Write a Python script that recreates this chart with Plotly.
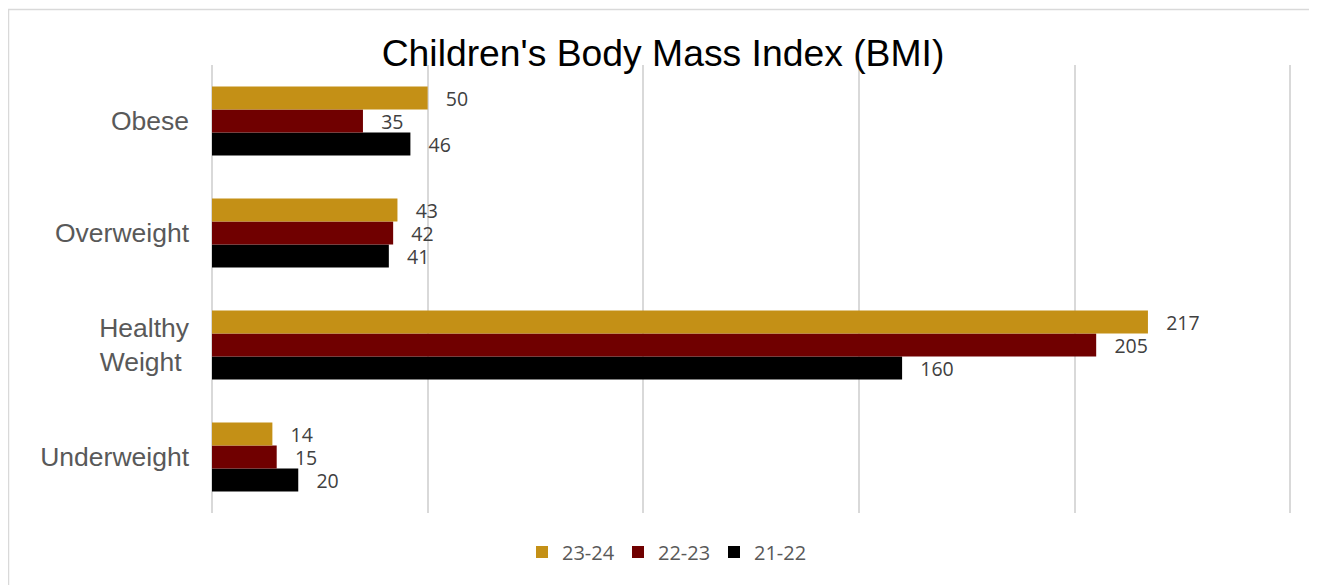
import plotly.graph_objects as go

categories = ["Underweight", "Healthy<br>Weight ", "Overweight", "Obese"]
series_names = ["21-22", "22-23", "23-24"]
values_21_22 = [20, 160, 41, 46]
values_22_23 = [15, 205, 42, 35]
values_23_24 = [14, 217, 43, 50]
colors = {"21-22": "#000000", "22-23": "#700000", "23-24": "#C49016"}

data = {"21-22": values_21_22, "22-23": values_22_23, "23-24": values_23_24}

fig = go.Figure()
for name in series_names:
    vals = data[name]
    fig.add_trace(go.Bar(
        y=categories, x=vals, name=name, orientation="h",
        marker=dict(color=colors[name], line=dict(width=0)),
        text=["\u00a0\u00a0\u00a0" + str(v) for v in vals],
        textposition="outside", constraintext="none",
        textfont=dict(family="Open Sans", size=19.5, color="#404040"),
        cliponaxis=False,
    ))

# page offset (body margin) of the rendered figure
OX, OY = 8, 8
W, H = 1317 - OX, 585 - OY
L, R, T, B = 212 - OX, 1317 - 1292, 65 - OY, 585 - 513
pw, ph = W - L - R, H - T - B

def px_x(p):
    return (p - OX - L) / pw

def px_y(p):
    return (H - B - (p - OY)) / ph

fig.add_shape(type="rect", xref="paper", yref="paper",
              x0=px_x(8.5), x1=px_x(1330), y0=px_y(600), y1=px_y(9.5),
              line=dict(color="#d9d9d9", width=1.5), layer="below")

fig.update_layout(
    width=W, height=H,
    margin=dict(l=L, r=R, t=T, b=B),
    paper_bgcolor="white", plot_bgcolor="white",
    barmode="group", bargap=0.384, bargroupgap=0,
    title=dict(text="Children's Body Mass Index (BMI)",
               font=dict(family="Liberation Sans, Arial", size=37.3, color="#000000"),
               x=(663 - OX) / W, xanchor="center", xref="container",
               y=1 - (53 - OY) / H, yanchor="middle", yref="container"),
    legend=dict(orientation="h", traceorder="reversed",
                xref="container", yref="container",
                x=(666 - OX) / W, xanchor="center", y=1 - (552 - OY) / H, yanchor="middle",
                font=dict(family="Open Sans", size=20, color="#595959"),
                entrywidth=51, entrywidthmode="pixels"),
    xaxis=dict(range=[0, 250.4], tickvals=[0, 50, 100, 150, 200, 250], showticklabels=False,
               showgrid=True, gridcolor="#d9d9d9", gridwidth=1.5,
               zeroline=True, zerolinecolor="#d9d9d9", zerolinewidth=1.5,
               showline=False, fixedrange=True),
    yaxis=dict(showgrid=False, showline=False, zeroline=False,
               tickfont=dict(family="Liberation Sans, Arial", size=26.5, color="#595959"),
               ticklabelstandoff=22, fixedrange=True),
    showlegend=True,
)

fig.write_html("out.html")
